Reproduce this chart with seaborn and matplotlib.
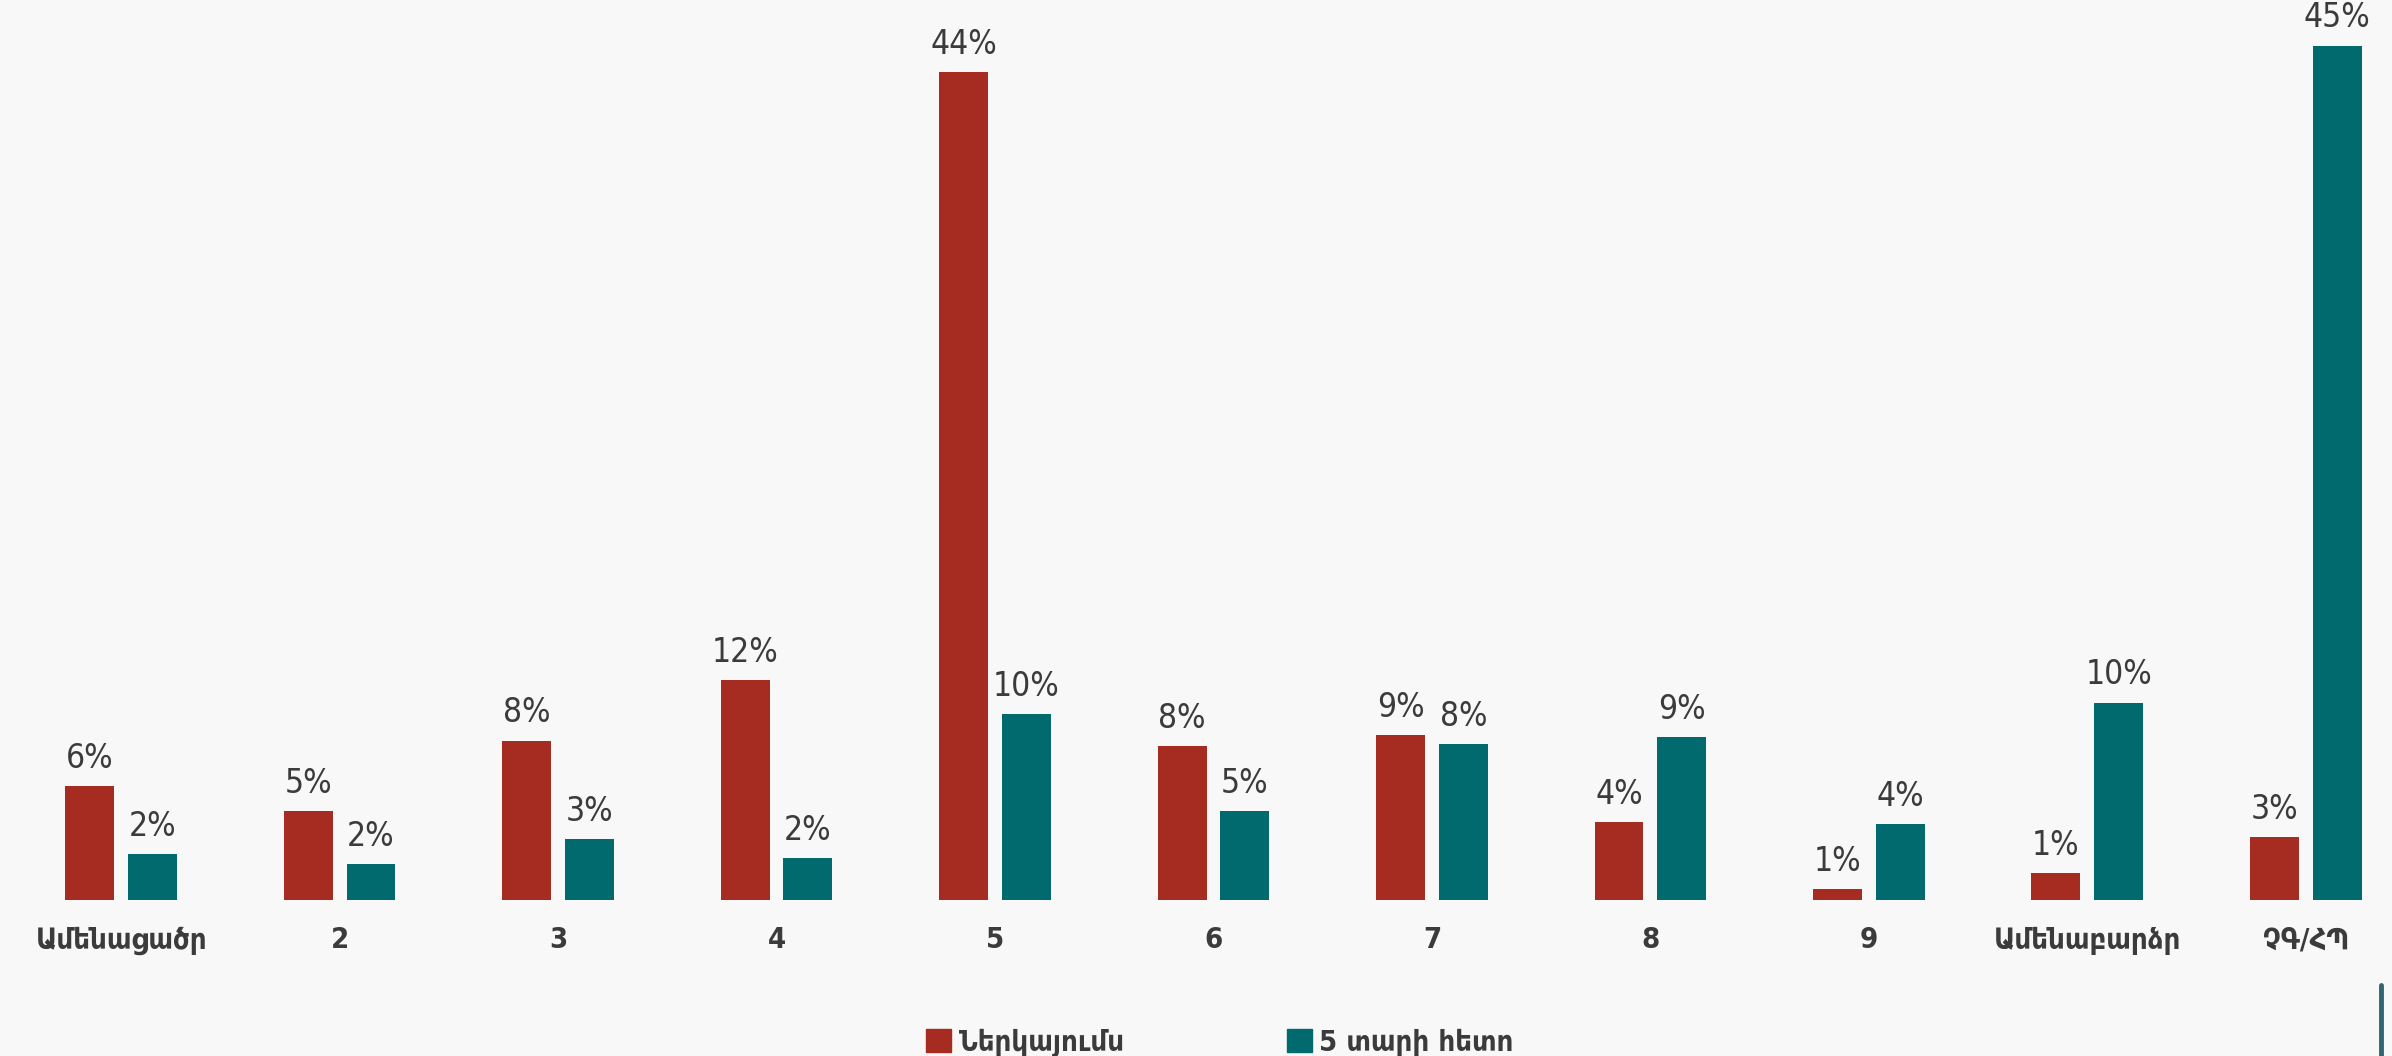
import matplotlib
matplotlib.use("Agg")
import matplotlib.pyplot as plt
from matplotlib.lines import Line2D
import pandas as pd
import seaborn as sns


categories = ["Ամենացածր", "2", "3", "4", "5", "6", "7", "8", "9", "Ամենաբարձր", "ՉԳ/ՀՊ"]
series_names = ["Ներկայումս", "5 տարի հետո"]
now_values = [6.0, 4.7, 8.4, 11.6, 43.6, 8.1, 8.7, 4.1, 0.6, 1.4, 3.3]
later_values = [2.4, 1.9, 3.2, 2.2, 9.8, 4.7, 8.2, 8.6, 4.0, 10.4, 45.0]
colors = ["#a62b21", "#006a6e"]
bg = "#f8f8f8"
text_col = "#3b3b3b"


def build_frame():
    rows = []
    for cat, a, b in zip(categories, now_values, later_values):
        rows.append({"cat": cat, "series": series_names[0], "value": a})
        rows.append({"cat": cat, "series": series_names[1], "value": b})
    return pd.DataFrame(rows)


sns.set_theme(style="white")
plt.rcParams["font.family"] = ["DejaVu Sans"]
plt.rcParams["font.stretch"] = "condensed"

fig = plt.figure(figsize=(23.92, 10.56), dpi=100, facecolor=bg)
ax = fig.add_axes([0, 0.1477, 1, 0.8523])
ax.set_facecolor(bg)

df = build_frame()
sns.barplot(data=df, x="cat", y="value", hue="series", order=categories,
            hue_order=series_names, palette=colors, width=0.574, gap=0.22,
            saturation=1, linewidth=0, ax=ax)

for cont in ax.containers:
    ax.bar_label(cont, labels=[f"{v:.0f}%" for v in cont.datavalues],
                 padding=8, fontsize=24, color=text_col, fontstretch="condensed")

ax.set_xlim(-0.555, 10.395)
ax.set_ylim(0, 47.4)
ax.set_xlabel("")
ax.set_ylabel("")
ax.set_yticks([])
ax.tick_params(axis="x", length=0, pad=19)
for lab in ax.get_xticklabels():
    lab.set_fontsize(21)
    lab.set_fontweight("bold")
    lab.set_color(text_col)
    lab.set_fontstretch("condensed")
sns.despine(ax=ax, left=True, bottom=True)

ax.get_legend().remove()
handles = [plt.Rectangle((0, 0), 1, 1, color=c) for c in colors]
leg = fig.legend(handles, series_names, loc="lower center", bbox_to_anchor=(0.51, -0.026),
                 ncol=2, frameon=False, handlelength=0.85, handleheight=0.85,
                 handletextpad=0.25, columnspacing=5.6,
                 prop={"size": 21, "weight": "bold", "stretch": "condensed"})
for t in leg.get_texts():
    t.set_color(text_col)

# small accent line in the bottom-right corner
fig.add_artist(Line2D([0.9953, 0.9953], [0.0, 0.067], color="#2f6672", linewidth=3.5))

fig.savefig("out.png", dpi=100, facecolor=bg)
